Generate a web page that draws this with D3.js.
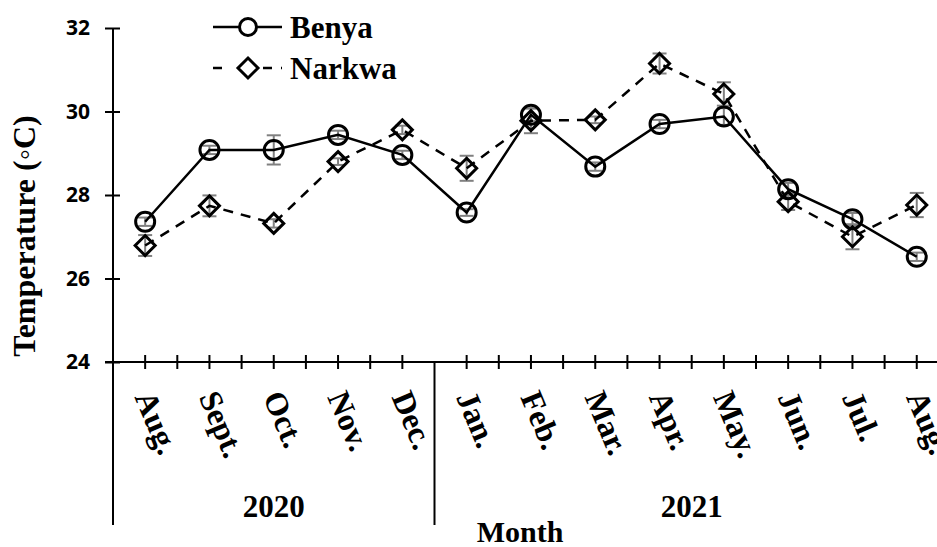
<!DOCTYPE html>
<html>
<head>
<meta charset="utf-8">
<script src="https://cdn.jsdelivr.net/npm/d3@7"></script>
<style>
  body { margin: 0; background: #fff; }
  svg { display: block; }
  .serif { font-family: "Liberation Serif", "Times New Roman", serif; font-weight: bold; }
  .sans { font-family: "Open Sans", "Noto Sans", sans-serif; font-weight: bold; }
</style>
</head>
<body>
<div id="chart"></div>
<script>
// month labels (13 months, Aug 2020 .. Aug 2021)
const months = ["Aug.", "Sept.", "Oct.", "Nov.", "Dec.", "Jan.", "Feb.", "Mar.", "Apr.", "May.", "Jun.", "Jul.", "Aug."];
const years = ["2020", "2021"];
const yearSpans = [5, 8];

const benya = [27.36, 29.08, 29.08, 29.44, 28.96, 27.58, 29.92, 28.68, 29.70, 29.88, 28.14, 27.42, 26.52];
const benyaErr = [0.10, 0.10, 0.35, 0.10, 0.10, 0.08, 0.15, 0.10, 0.10, 0.20, 0.15, 0.15, 0.10];
const narkwa = [26.79, 27.74, 27.32, 28.80, 29.56, 28.64, 29.78, 29.80, 31.15, 30.42, 27.84, 27.00, 27.76];
const narkwaErr = [0.25, 0.25, 0.10, 0.08, 0.10, 0.30, 0.30, 0.08, 0.24, 0.28, 0.20, 0.30, 0.29];

const yTicks = [24, 26, 28, 30, 32];

const width = 937, height = 547;
const plotLeft = 113, plotTop = 28, plotBottom = 362;
const step = 64.3;

const svg = d3.select("#chart").append("svg")
  .attr("width", width)
  .attr("height", height);

const x = d3.scaleBand()
  .domain(d3.range(months.length))
  .range([plotLeft, plotLeft + step * months.length])
  .padding(0);

const y = d3.scaleLinear().domain([24, 32]).range([plotBottom, plotTop]);

const cx = (i) => x(i) + x.bandwidth() / 2;

// y axis
const yAxis = svg.append("g")
  .attr("transform", `translate(${plotLeft},0)`)
  .call(d3.axisLeft(y).tickValues(yTicks).tickSize(8).tickPadding(0).tickFormat(d3.format("d")));
yAxis.select(".domain").remove();
yAxis.selectAll(".tick line").attr("x1", -8).attr("x2", 7).attr("stroke", "#000").attr("stroke-width", 2);
yAxis.selectAll(".tick text")
  .attr("class", "sans")
  .attr("x", -23)
  .attr("font-size", 21)
  .attr("fill", "#000");

svg.append("line")
  .attr("x1", plotLeft).attr("x2", plotLeft)
  .attr("y1", plotTop).attr("y2", 525)
  .attr("stroke", "#000").attr("stroke-width", 2);

// x axis
svg.append("line")
  .attr("x1", 105).attr("x2", width)
  .attr("y1", plotBottom).attr("y2", plotBottom)
  .attr("stroke", "#000").attr("stroke-width", 2);

const tickPos = [];
months.forEach((m, i) => { tickPos.push(cx(i)); tickPos.push(x(i) + x.bandwidth()); });
svg.append("g").selectAll("line")
  .data(tickPos.filter((p, i) => i !== 9))
  .join("line")
  .attr("x1", (d) => d).attr("x2", (d) => d)
  .attr("y1", plotBottom - 7).attr("y2", plotBottom + 7)
  .attr("stroke", "#000").attr("stroke-width", 2);

// group divider between years
let acc = 0;
const yearPos = yearSpans.map((s) => {
  const p = { from: acc, to: acc + s };
  acc += s;
  return p;
});
svg.append("line")
  .attr("x1", x(yearPos[1].from)).attr("x2", x(yearPos[1].from))
  .attr("y1", plotBottom).attr("y2", 525)
  .attr("stroke", "#000").attr("stroke-width", 2);

// month labels
svg.append("g").selectAll("text")
  .data(months)
  .join("text")
  .attr("class", "serif")
  .attr("font-size", 32)
  .attr("transform", (d, i) => `translate(${cx(i) - 11},397) rotate(67)`)
  .text((d) => d);

// year labels
svg.append("g").selectAll("text")
  .data(years)
  .join("text")
  .attr("class", "serif")
  .attr("font-size", 31)
  .attr("text-anchor", "middle")
  .attr("x", (d, i) => (x(yearPos[i].from) + x(yearPos[i].to - 1) + x.bandwidth()) / 2)
  .attr("y", 517)
  .text((d) => d);

svg.append("text")
  .attr("class", "serif")
  .attr("font-size", 30)
  .attr("text-anchor", "middle")
  .attr("x", 520).attr("y", 542)
  .text("Month");

svg.append("text")
  .attr("class", "serif")
  .attr("font-size", 32)
  .attr("text-anchor", "middle")
  .attr("transform", `translate(35,236) rotate(-90)`)
  .text("Temperature (\u25E6C)");

// error bars
function errorBars(vals, errs) {
  const g = svg.append("g").attr("stroke", "#808080").attr("stroke-width", 2);
  vals.forEach((v, i) => {
    const px = cx(i);
    g.append("line").attr("x1", px).attr("x2", px).attr("y1", y(v - errs[i])).attr("y2", y(v + errs[i]));
    g.append("line").attr("x1", px - 7).attr("x2", px + 7).attr("y1", y(v - errs[i])).attr("y2", y(v - errs[i]));
    g.append("line").attr("x1", px - 7).attr("x2", px + 7).attr("y1", y(v + errs[i])).attr("y2", y(v + errs[i]));
  });
}
errorBars(benya, benyaErr);
errorBars(narkwa, narkwaErr);

const line = d3.line().x((d, i) => cx(i)).y((d) => y(d));

svg.append("path")
  .datum(benya)
  .attr("d", line)
  .attr("fill", "none")
  .attr("stroke", "#000")
  .attr("stroke-width", 2.5);

svg.append("path")
  .datum(narkwa)
  .attr("d", line)
  .attr("fill", "none")
  .attr("stroke", "#000")
  .attr("stroke-width", 2.5)
  .attr("stroke-dasharray", "10,8");

const diamond = (px, py, r) => `M${px},${py - r}L${px + r},${py}L${px},${py + r}L${px - r},${py}Z`;

svg.append("g").selectAll("circle")
  .data(benya)
  .join("circle")
  .attr("cx", (d, i) => cx(i))
  .attr("cy", (d) => y(d))
  .attr("r", 9.5)
  .attr("fill", "none")
  .attr("stroke", "#000")
  .attr("stroke-width", 3);

svg.append("g").selectAll("path")
  .data(narkwa)
  .join("path")
  .attr("d", (d, i) => diamond(cx(i), y(d), 10))
  .attr("fill", "none")
  .attr("stroke", "#000")
  .attr("stroke-width", 3);

// legend
const leg = svg.append("g");
leg.append("line").attr("x1", 213).attr("x2", 282).attr("y1", 27).attr("y2", 27)
  .attr("stroke", "#000").attr("stroke-width", 2.5);
leg.append("circle").attr("cx", 248).attr("cy", 27).attr("r", 8.5)
  .attr("fill", "#fff").attr("stroke", "#000").attr("stroke-width", 3);
leg.append("text").attr("class", "serif").attr("font-size", 31)
  .attr("x", 290).attr("y", 38).text("Benya");

leg.append("line").attr("x1", 213).attr("x2", 282).attr("y1", 68).attr("y2", 68)
  .attr("stroke", "#000").attr("stroke-width", 2.5).attr("stroke-dasharray", "9,11,0,30,9");
leg.append("path").attr("d", diamond(248, 68, 10))
  .attr("fill", "#fff").attr("stroke", "#000").attr("stroke-width", 3);
leg.append("text").attr("class", "serif").attr("font-size", 31)
  .attr("x", 290).attr("y", 79).text("Narkwa");
</script>
</body>
</html>
